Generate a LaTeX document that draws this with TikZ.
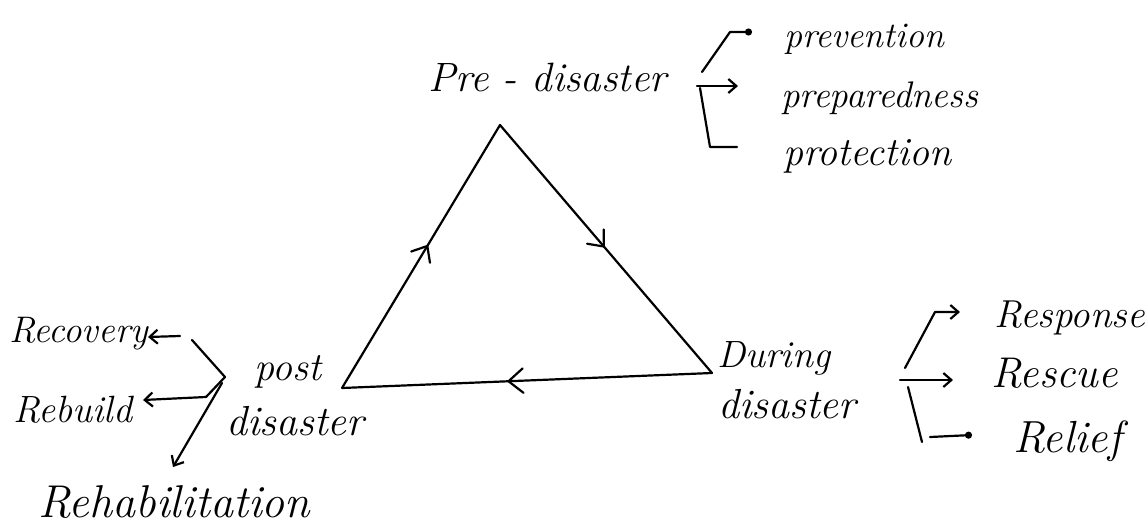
\documentclass[tikz,border=0pt]{standalone}
\usetikzlibrary{arrows.meta,calc}
\begin{document}
\begin{tikzpicture}[x=1pt,y=-1pt,line width=2.2pt,line cap=round,line join=round,
  lbl/.style={anchor=base west,inner sep=0pt,font=\fontsize{#1}{#1}\selectfont\itshape},
  barb/.style={-{Straight Barb[length=8pt,width=14pt]}},
  dotend/.style={-{Circle[length=7pt,width=7pt]}}]
\useasboundingbox (0,0) rectangle (1147,532);
% triangle
\coordinate (T) at (500,125);
\coordinate (L) at (342,388);
\coordinate (R) at (712,373);
\draw (L) -- (T) -- (R) -- (L);
% direction chevrons
\coordinate (m1) at ($(L)!0.54!(T)$);
\coordinate (m2) at ($(T)!0.49!(R)$);
\coordinate (m3) at ($(R)!0.55!(L)$);
\draw ($(m1)!17pt!40:(L)$) -- (m1) -- ($(m1)!17pt!-40:(L)$);
\draw ($(m2)!17pt!40:(T)$) -- (m2) -- ($(m2)!17pt!-40:(T)$);
\draw ($(m3)!19pt!40:(R)$) -- (m3) -- ($(m3)!19pt!-40:(R)$);
% labels
\node[lbl=41] (pre) at (427,92) {Pre - disaster};
\node[lbl=36] (prev) at (783,48) {prevention};
\node[lbl=37] (prep) at (780,108) {preparedness};
\node[lbl=40] (prot) at (782,165) {protection};
\node[lbl=40] (post) at (253,380) {post};
\node[lbl=42] (postd) at (225,435) {disaster};
\node[lbl=37] (rec) at (8,342) {Recovery};
\node[lbl=38] (reb) at (12,422) {Rebuild};
\node[lbl=46] (reh) at (37,517) {Rehabilitation};
\node[lbl=38] (dur) at (716,367) {During};
\node[lbl=42] (durd) at (717,418) {disaster};
\node[lbl=39] (resp) at (993,327) {Response};
\node[lbl=43] (resc) at (990,387) {Rescue};
\node[lbl=45] (reli) at (1012,452) {Relief};
% pre-disaster branches
\coordinate (p1) at (702,72); \coordinate (p2) at (730,32); \coordinate (p3) at (752,32);
\coordinate (p4) at (697,86); \coordinate (p5) at (738,86);
\coordinate (p6) at (700,88); \coordinate (p7) at (710,147); \coordinate (p8) at (737,147);
\draw[dotend] (p1) -- (p2) -- (p3);
\draw[barb] (p4) -- (p5);
\draw (p6) -- (p7) -- (p8);
% post-disaster branches
\coordinate (q1) at (192,340); \coordinate (q2) at (225,377); \coordinate (q3) at (206,397);
\coordinate (q4) at (180,336); \coordinate (q5) at (148,337);
\coordinate (q7) at (143,400);
\coordinate (q8) at (222,383); \coordinate (q9) at (173,467);
\draw (q1) -- (q2) -- (q3);
\draw[barb] (q4) -- (q5);
\draw[barb] (q3) -- (q7);
\draw[barb] (q8) -- (q9);
% during-disaster branches
\coordinate (r1) at (905,368); \coordinate (r2) at (935,312); \coordinate (r3) at (960,312);
\coordinate (r4) at (900,380); \coordinate (r5) at (953,380);
\coordinate (r6) at (908,387); \coordinate (r7) at (922,442);
\coordinate (r8) at (930,437); \coordinate (r9) at (972,435);
\draw[barb] (r1) -- (r2) -- (r3);
\draw[barb] (r4) -- (r5);
\draw (r6) -- (r7);
\draw[dotend] (r8) -- (r9);
\end{tikzpicture}
\end{document}
